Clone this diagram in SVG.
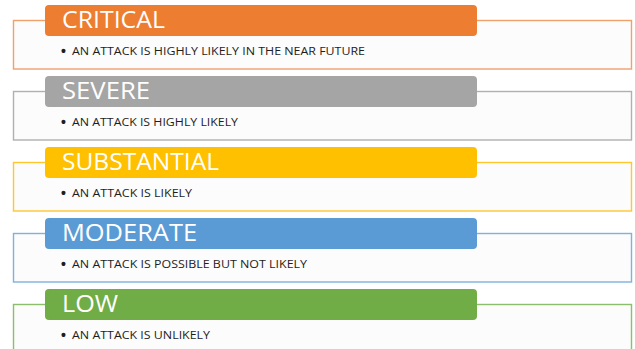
<svg xmlns="http://www.w3.org/2000/svg" width="635" height="349" viewBox="0 0 635 349">
<style>
.box{fill:#fcfcfc;stroke-width:1.4}
.hdr{stroke:none}
.ttl{font-family:"Open Sans","Liberation Sans",sans-serif;font-size:24px;fill:#ffffff}
.txt{font-family:"Open Sans","Liberation Sans",sans-serif;font-size:11px;fill:#1e1e1e}
.bul{font-family:"Liberation Sans",sans-serif;font-size:14px;font-weight:bold;fill:#1e1e1e}
</style>
<rect x="0" y="0" width="635" height="349" fill="#ffffff"/>
<g id="critical">
<rect class="box" x="13.5" y="20.5" width="618" height="48.5" stroke="#F0A06A"/>
<rect class="hdr" x="45" y="5" width="432" height="31" rx="4" fill="#ED7D31"/>
<text class="ttl" x="62" y="28" textLength="103" lengthAdjust="spacingAndGlyphs">CRITICAL</text>
<text class="bul" x="61" y="56">•</text>
<text class="txt" x="72" y="55" textLength="293" lengthAdjust="spacingAndGlyphs">AN ATTACK IS HIGHLY LIKELY IN THE NEAR FUTURE</text>
</g>
<g id="severe">
<rect class="box" x="13.5" y="91.5" width="618" height="48.5" stroke="#B0B0B0"/>
<rect class="hdr" x="45" y="76" width="432" height="31" rx="4" fill="#A5A5A5"/>
<text class="ttl" x="62" y="99" textLength="88" lengthAdjust="spacingAndGlyphs">SEVERE</text>
<text class="bul" x="61" y="127">•</text>
<text class="txt" x="72" y="126" textLength="166" lengthAdjust="spacingAndGlyphs">AN ATTACK IS HIGHLY LIKELY</text>
</g>
<g id="substantial">
<rect class="box" x="13.5" y="162.5" width="618" height="48.5" stroke="#FFC72E"/>
<rect class="hdr" x="45" y="147" width="432" height="31" rx="4" fill="#FFC000"/>
<text class="ttl" x="62" y="170" textLength="157" lengthAdjust="spacingAndGlyphs">SUBSTANTIAL</text>
<text class="bul" x="61" y="198">•</text>
<text class="txt" x="72" y="197" textLength="120" lengthAdjust="spacingAndGlyphs">AN ATTACK IS LIKELY</text>
</g>
<g id="moderate">
<rect class="box" x="13.5" y="233.5" width="618" height="48.5" stroke="#7FB0DE"/>
<rect class="hdr" x="45" y="218" width="432" height="31" rx="4" fill="#5B9BD5"/>
<text class="ttl" x="62" y="241" textLength="135" lengthAdjust="spacingAndGlyphs">MODERATE</text>
<text class="bul" x="61" y="269">•</text>
<text class="txt" x="72" y="268" textLength="235" lengthAdjust="spacingAndGlyphs">AN ATTACK IS POSSIBLE BUT NOT LIKELY</text>
</g>
<g id="low">
<rect class="box" x="13.5" y="304.5" width="618" height="48.5" stroke="#8DBE6C"/>
<rect class="hdr" x="45" y="289" width="432" height="31" rx="4" fill="#70AD47"/>
<text class="ttl" x="62" y="312" textLength="56" lengthAdjust="spacingAndGlyphs">LOW</text>
<text class="bul" x="61" y="340">•</text>
<text class="txt" x="72" y="339" textLength="138" lengthAdjust="spacingAndGlyphs">AN ATTACK IS UNLIKELY</text>
</g>
<g id="connectors"></g>
</svg>
